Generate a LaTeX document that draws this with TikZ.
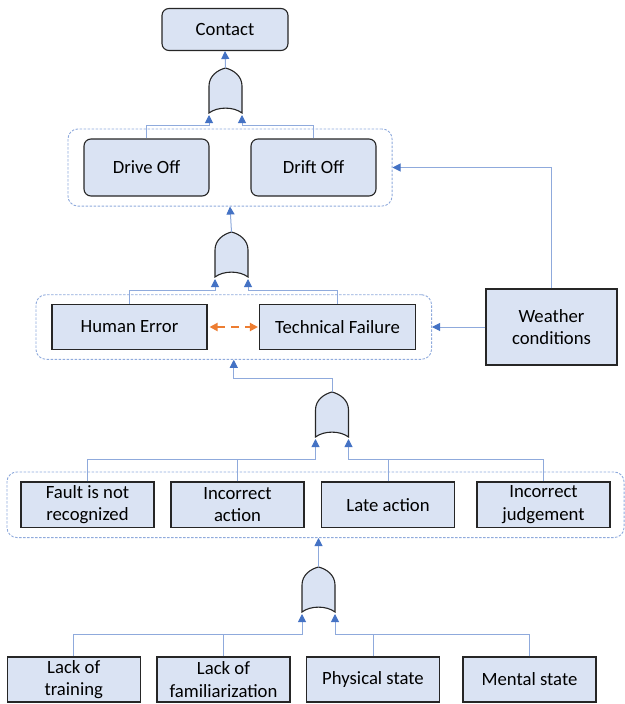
\documentclass[tikz,border=0pt]{standalone}
\usepackage{fontspec}
\setmainfont{Carlito}
\usetikzlibrary{fit,arrows.meta}
\definecolor{boxfill}{HTML}{DAE3F3}
\definecolor{linkblue}{HTML}{8FAADC}
\definecolor{tipblue}{HTML}{4472C4}
\definecolor{orangeline}{HTML}{ED7D31}

\begin{document}
\begin{tikzpicture}[x=1pt, y=-1pt,
	main/.style={draw=black!85, fill=boxfill, line width=1.1pt, minimum width=133pt, minimum height=45pt, inner sep=0pt, align=center, font=\fontsize{18.7}{22.5}\selectfont},
	rmain/.style={main, rounded corners=7pt},
	grp/.style={draw=linkblue, dash pattern=on 2.5pt off 1.5pt, rounded corners=10pt, line width=0.9pt, inner ysep=9.5pt},
	link/.style={draw=linkblue, line width=1pt, -{Triangle[length=8pt, width=8pt, color=tipblue]}},
	wire/.style={draw=linkblue, line width=1pt},
	orgate/.pic={
		\draw[draw=black!85, fill=boxfill, line width=1.1pt] (-16.5,0) -- (-16.5,-27) .. controls (-16.5,-37) and (-8,-43) .. (0,-45) .. controls (8,-43) and (16.5,-37) .. (16.5,-27) -- (16.5,0) .. controls (8,-6.5) and (-8,-6.5) .. cycle;
		\coordinate (-in1) at (-16.5,2);
		\coordinate (-in2) at (16.5,2);
		\coordinate (-out) at (0,-45);
	}]
		\useasboundingbox (0,0) rectangle (624,704);

		% top event and first gate
		\node[rmain, minimum width=126pt, minimum height=42pt] (contact) at (225,29.5) {Contact};
		\pic (g1) at (225.5,113) {orgate};
		\node[rmain, minimum width=125pt, minimum height=57pt] (drive) at (146.5,167.5) {Drive Off};
		\node[rmain, minimum width=125pt, minimum height=57pt] (drift) at (313.5,167.5) {Drift Off};
		\node[grp, inner xsep=15.5pt, fit=(drive)(drift)] (grp1) {};

		% second level
		\pic (g2) at (231.5,277) {orgate};
		\node[main, minimum width=155pt, minimum height=44.5pt] (human) at (129.5,327) {Human Error};
		\node[main, minimum width=156pt, minimum height=44.5pt] (tech) at (337.5,327) {Technical Failure};
		\node[grp, inner xsep=15.5pt, fit=(human)(tech)] (grp2) {};
		\node[main, minimum width=131pt, minimum height=76pt] (weather) at (551.5,327) {Weather\\conditions};

		% third level
		\pic (g3) at (332,437) {orgate};
		\node[main, minimum height=45.5pt] (fault) at (87.5,504.75) {Fault is not\\recognized};
		\node[main, minimum height=45.5pt] (action) at (237.5,504.75) {Incorrect\\action};
		\node[main, minimum height=45.5pt] (late) at (388,504.75) {Late action};
		\node[main, minimum height=45.5pt] (judge) at (543.5,504.75) {Incorrect\\judgement};
		\node[grp, inner xsep=13.5pt, fit=(fault)(judge)] (grp3) {};

		% basic causes
		\pic (g4) at (318.5,612) {orgate};
		\node[main] (training) at (73.75,679.5) {Lack of\\training};
		\node[main] (familiar) at (223.5,679.5) {Lack of\\familiarization};
		\node[main] (physical) at (373,679.5) {Physical state};
		\node[main] (mental) at (529.5,679.5) {Mental state};

		\draw[link] (g1-out) -- (contact.south);
		\draw[link] (drive.north) -- ++(0,-13) -| (g1-in1);
		\draw[link] (drift.north) -- ++(0,-13) -| (g1-in2);

		\draw[link] (g2-out) -- (grp1.south);
		\draw[link] (human.north) -- ++(0,-14) -| (g2-in1);
		\draw[link] (tech.north) -- ++(0,-14) -| (g2-in2);
		\draw[orangeline, line width=2pt, dash pattern=on 8pt off 6pt, {Triangle[length=8pt, width=8pt]}-{Triangle[length=8pt, width=8pt]}, shorten <=2pt, shorten >=1pt] (human.east) -- (tech.west);
		\draw[link] (weather.north) |- (grp1.east);
		\draw[link] (weather.west) -- (grp2.east);

		\draw[link] (g3-out) -- ++(0,-14) -| (grp2.south);
		\draw[wire] (action.north) -- ++(0,-22) -| ([yshift=-8pt]g3-in1);
		\draw[link] (fault.north) -- ++(0,-22) -| (g3-in1);
		\draw[wire] (judge.north) -- ++(0,-22) -| ([yshift=-8pt]g3-in2);
		\draw[link] (late.north) -- ++(0,-22) -| (g3-in2);

		\draw[link] (g4-out) -- (g4-out |- grp3.south);
		\draw[wire] (familiar.north) -- ++(0,-22) -| ([yshift=-8pt]g4-in1);
		\draw[link] (training.north) -- ++(0,-22) -| (g4-in1);
		\draw[wire] (mental.north) -- ++(0,-22) -| ([yshift=-8pt]g4-in2);
		\draw[link] (physical.north) -- ++(0,-22) -| (g4-in2);
\end{tikzpicture}
\end{document}
